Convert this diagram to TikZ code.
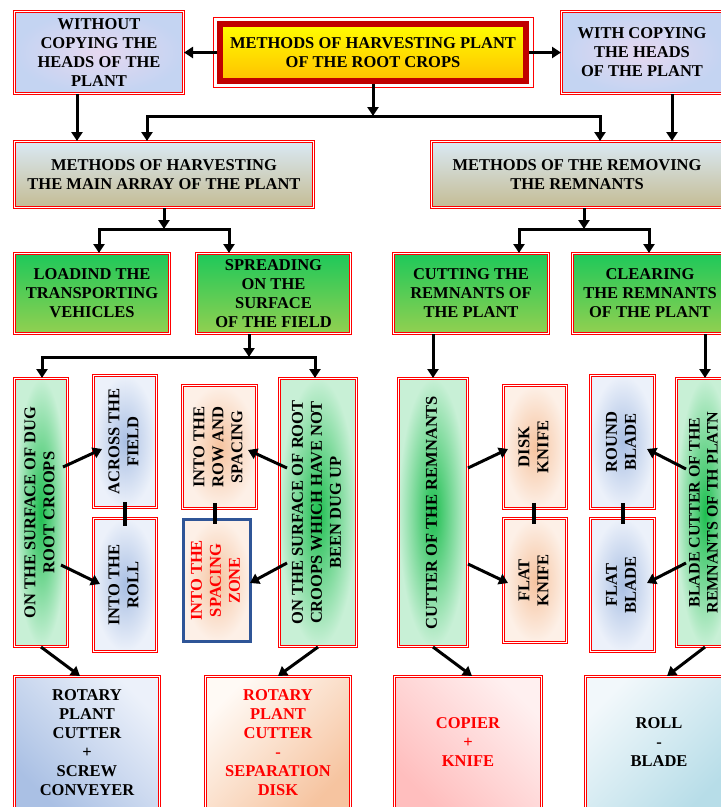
\documentclass[tikz,border=0pt]{standalone}
\usepackage{fontspec}
\setmainfont{Liberation Serif}[BoldFont={Liberation Serif Bold}]
\newfontfamily\boxfont{Liberation Serif}[BoldFont={Liberation Serif Bold}]
\usepackage{graphicx}
\usepackage{tikz}
\usetikzlibrary{positioning,arrows.meta}

\definecolor{frame}{RGB}{255,0,0}
\definecolor{frameD}{RGB}{192,0,0}
\definecolor{zoneblue}{RGB}{47,85,151}
\definecolor{lavin}{RGB}{230,216,240}
\definecolor{lavout}{RGB}{196,212,242}
\definecolor{gtop}{RGB}{30,200,90}
\definecolor{gbot}{RGB}{146,208,80}
\definecolor{gin}{RGB}{30,190,80}
\definecolor{gout}{RGB}{200,240,214}
\definecolor{bin}{RGB}{170,192,228}
\definecolor{bout}{RGB}{236,241,250}
\definecolor{pin}{RGB}{246,196,160}
\definecolor{pout}{RGB}{253,240,231}
\definecolor{skytop}{RGB}{218,233,244}
\definecolor{tanbot}{RGB}{196,188,148}
\newcommand{\vtext}[1]{\rotatebox{90}{\begin{tabular}{@{}c@{}}#1\end{tabular}}}

\begin{document}
\begin{tikzpicture}[x=1pt,y=-1pt,
  font=\boxfont\fontsize{16.5}{19}\selectfont\bfseries,
  redbox/.style={draw=frame,double=white,double distance=1.2pt,line width=1pt,align=center,inner sep=1pt},
  copybox/.style={redbox,inner color=lavin,outer color=lavout},
  mainbox/.style={draw=frameD,line width=6pt,top color=yellow,bottom color={rgb,255:red,255;green,192;blue,0},align=center},
  groupbox/.style={redbox,top color=skytop,bottom color=tanbot},
  greenbox/.style={redbox,top color=gtop,bottom color=gbot},
  vgreen/.style={redbox,inner color=gin,outer color=gout},
  vblue/.style={redbox,inner color=bin,outer color=bout},
  vpeach/.style={redbox,inner color=pin,outer color=pout},
  arr/.style={line width=3pt,-{Triangle[length=9pt,width=11pt]}},
  link/.style={line width=4pt}]
\useasboundingbox (0,0) rectangle (721,807);
\clip (0,0) rectangle (721,807);

% top row
\node[mainbox,minimum width=306pt,minimum height=57pt] (main) at (373,52.5)
  {METHODS OF HARVESTING PLANT\\ OF THE ROOT CROPS};
\draw[frame,line width=1pt] ([shift={(-4,-3.5)}]main.north west) rectangle ([shift={(4,3.5)}]main.south east);
\node[copybox,minimum width=169pt,minimum height=82pt] (without) at (99,52.5)
  {WITHOUT\\ COPYING THE\\ HEADS OF THE\\ PLANT};
\node[copybox,minimum width=161pt,minimum height=82pt] (with) at (642,52.5)
  {WITH COPYING\\ THE HEADS\\ OF THE PLANT};

% second row
\node[groupbox,minimum width=299pt,minimum height=66pt] (array) at (164,174.5)
  {METHODS OF HARVESTING\\ THE MAIN ARRAY OF THE PLANT};
\node[groupbox,minimum width=291pt,minimum height=66pt] (removing) at (577,174.5)
  {METHODS OF THE REMOVING\\ THE REMNANTS};

% third row
\node[greenbox,minimum width=155pt,minimum height=80pt] (loadind) at (92,293.5)
  {LOADIND THE\\ TRANSPORTING\\ VEHICLES};
\node[greenbox,minimum width=154pt,minimum height=80pt] (spreading) at (273.5,293.5)
  {SPREADING\\ ON THE\\ SURFACE\\ OF THE FIELD};
\node[greenbox,minimum width=155pt,minimum height=80pt] (cutting) at (471,293.5)
  {CUTTING THE\\ REMNANTS OF\\ THE PLANT};
\node[greenbox,minimum width=155pt,minimum height=80pt] (clearing) at (650,293.5)
  {CLEARING\\ THE REMNANTS\\ OF THE PLANT};

% vertical boxes
\node[vgreen,minimum width=53pt,minimum height=268pt] (dug) at (41,512.5)
  {\vtext{ON THE SURFACE OF DUG\\ ROOT CROOPS}};
\node[vblue,minimum width=63pt,minimum height=132pt] (across) at (125,441.5)
  {\vtext{ACROSS THE\\ FIELD}};
\node[vblue,minimum width=63pt,minimum height=133pt] (roll) at (125,585)
  {\vtext{INTO THE\\ ROLL}};
\node[vpeach,minimum width=74pt,minimum height=123pt] (rowsp) at (219.5,447)
  {\vtext{INTO THE\\ ROW AND\\ SPACING}};
\node[draw=zoneblue,line width=3pt,inner color=pin,outer color=pout,text=frame,
      minimum width=67pt,minimum height=122pt] (zone) at (217,580.5)
  {\vtext{INTO THE\\ SPACING\\ ZONE}};
\node[vgreen,minimum width=77pt,minimum height=268pt] (rootbox) at (318,512.5)
  {\vtext{ON THE SURFACE OF ROOT\\ CROOPS WHICH HAVE NOT\\ BEEN DUG UP}};
\node[vgreen,minimum width=69pt,minimum height=268pt] (cutter) at (433,512.5)
  {\vtext{CUTTER OF THE REMNANTS}};
\node[vpeach,minimum width=63pt,minimum height=123pt] (disk) at (535,447)
  {\vtext{DISK\\ KNIFE}};
\node[vpeach,minimum width=63pt,minimum height=124pt] (flatk) at (535,580.5)
  {\vtext{FLAT\\ KNIFE}};
\node[vblue,minimum width=64pt,minimum height=133pt] (round) at (622.5,442)
  {\vtext{ROUND\\ BLADE}};
\node[vblue,minimum width=64pt,minimum height=133pt] (flatb) at (622.5,585)
  {\vtext{FLAT\\ BLADE}};
\node[vgreen,minimum width=57pt,minimum height=268pt,font=\boxfont\fontsize{16}{18}\selectfont\bfseries] (bladec) at (705,512.5)
  {\vtext{BLADE CUTTER OF THE\\ REMNANTS OF TH PLATN}};

% bottom row
\node[redbox,top color=bout,bottom color=bin,shading angle=-45,
      minimum width=145pt,minimum height=132pt] (rotscrew) at (87,742.5)
  {ROTARY\\ PLANT\\ CUTTER\\ +\\ SCREW\\ CONVEYER};
\node[redbox,top color={rgb,255:red,255;green,250;blue,245},bottom color=pin,shading angle=45,text=frame,
      minimum width=145pt,minimum height=132pt] (rotsep) at (278,742.5)
  {ROTARY\\ PLANT\\ CUTTER\\ -\\ SEPARATION\\ DISK};
\node[redbox,top color={rgb,255:red,255;green,240;blue,240},bottom color={rgb,255:red,255;green,190;blue,190},shading angle=-45,text=frame,
      minimum width=147pt,minimum height=132pt] (copier) at (468,742.5)
  {COPIER\\ +\\ KNIFE};
\node[redbox,top color={rgb,255:red,242;green,248;blue,251},bottom color={rgb,255:red,183;green,221;blue,232},shading angle=45,
      minimum width=147pt,minimum height=132pt] (rollblade) at (659,742.5)
  {ROLL\\ -\\ BLADE};

% junctions of the branching arrows
\coordinate (j1) at (373,116);
\coordinate (j2) at (164,229);
\coordinate (j3) at (584,229);
\coordinate (j4) at (249,357);

% connectors
\draw[arr] (main.west) -- (without.east);
\draw[arr] (main.east) -- (with.west);
\draw[arr] (main.south) -- (j1);
\draw[arr] (j1) -| ([xshift=-17pt]array.north);
\draw[arr] (j1) -| ([xshift=23pt]removing.north);
\draw[arr] ([xshift=-22pt]without.south) -- ([xshift=-87pt]array.north);
\draw[arr] ([xshift=30pt]with.south) -- ([xshift=95pt]removing.north);

\draw[arr] (array.south) -- (j2);
\draw[arr] (j2) -| ([xshift=7pt]loadind.north);
\draw[arr] (j2) -| ([xshift=-44.5pt]spreading.north);
\draw[arr] ([xshift=7pt]removing.south) -- (j3);
\draw[arr] (j3) -| ([xshift=48pt]cutting.north);
\draw[arr] (j3) -| ([xshift=-1pt]clearing.north);

\draw[arr] ([xshift=-24.5pt]spreading.south) -- (j4);
\draw[arr] (j4) -| ([xshift=1pt]dug.north);
\draw[arr] (j4) -| ([xshift=-3pt]rootbox.north);
\draw[arr] (cutting.south -| cutter.north) -- (cutter.north);
\draw[arr] (clearing.south -| bladec.north) -- (bladec.north);

\draw[arr] ([shift={(22,-45.5)}]dug.center) -- ([shift={(-23,7.5)}]across.center);
\draw[arr] ([shift={(20,52.5)}]dug.center) -- ([shift={(-25,-1)}]roll.center);
\draw[arr] ([shift={(-31,-44.5)}]rootbox.center) -- ([shift={(28.5,3)}]rowsp.center);
\draw[arr] ([shift={(-31,50.5)}]rootbox.center) -- ([shift={(33,2.5)}]zone.center);
\draw[arr] ([shift={(35,-44.5)}]cutter.center) -- ([shift={(-27,2)}]disk.center);
\draw[arr] ([shift={(35,51.5)}]cutter.center) -- ([shift={(-27,2.5)}]flatk.center);
\draw[arr] ([shift={(-19,-43.5)}]bladec.center) -- ([shift={(24.5,7)}]round.center);
\draw[arr] ([shift={(-19,50.5)}]bladec.center) -- ([shift={(24.5,-2)}]flatb.center);

\draw[link] ([yshift=6pt]across.south) -- ([yshift=-8pt]roll.north);
\draw[link] ([xshift=-4.5pt,yshift=6pt]rowsp.south) -- ([xshift=-2pt,yshift=-6pt]zone.north);
\draw[link] ([xshift=-1pt,yshift=6pt]disk.south) -- ([xshift=-1pt,yshift=-6pt]flatk.north);
\draw[link] ([yshift=6pt]round.south) -- ([yshift=-6pt]flatb.north);

\draw[arr] (dug.south) -- ([xshift=-7pt]rotscrew.north);
\draw[arr] (rootbox.south) -- (rotsep.north);
\draw[arr] (cutter.south) -- ([xshift=4pt]copier.north);
\draw[arr] (bladec.south) -- ([xshift=8pt]rollblade.north);
\end{tikzpicture}
\end{document}
